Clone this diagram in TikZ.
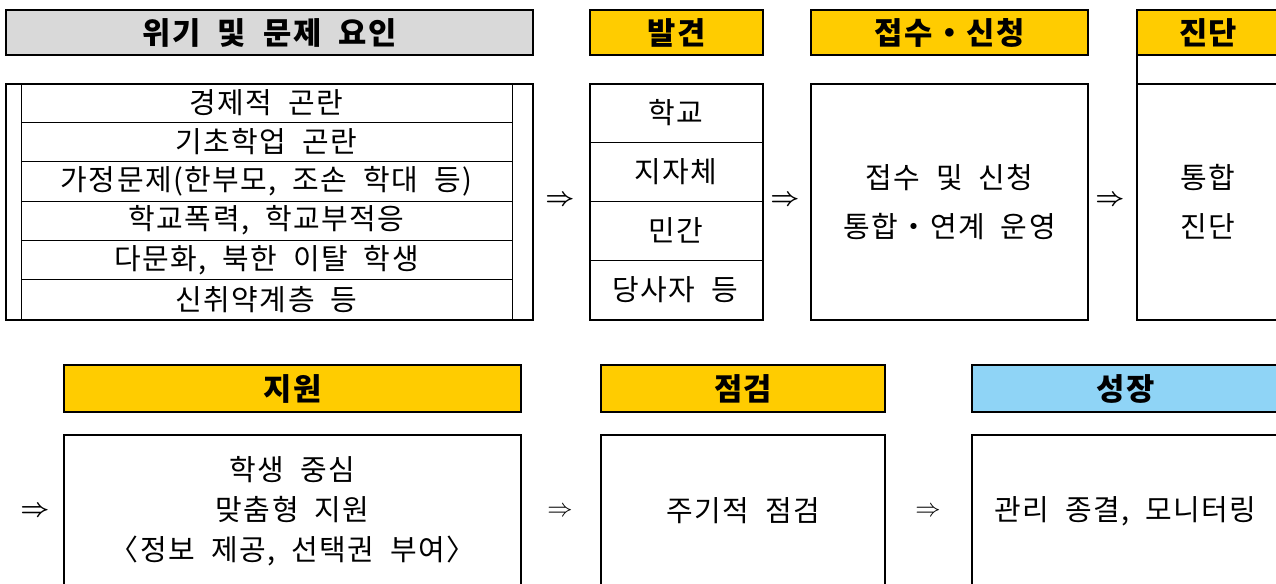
\documentclass[tikz,border=0pt]{standalone}
\usepackage{fontspec}
\setmainfont{Noto Sans CJK KR}[WordSpace=2, LetterSpace=5]
\usetikzlibrary{positioning}
\definecolor{hdryellow}{RGB}{255,204,0}
\definecolor{hdrgray}{RGB}{217,217,217}
\definecolor{hdrblue}{RGB}{143,212,246}

\begin{document}
\begin{tikzpicture}[x=0.02cm, y=-0.02cm,
  hdr/.style={draw, line width=1.3pt, inner sep=0pt, anchor=north west, minimum height=0.9cm, font=\bfseries\fontsize{17.5}{20}\selectfont},
  cell/.style={draw, line width=0.4pt, inner sep=0pt, outer sep=0pt, font=\fontsize{16.5}{20}\selectfont},
  crow/.style={cell, minimum width=9.82cm, minimum height=0.787cm},
  frow/.style={cell, minimum width=3.46cm, minimum height=1.18cm},
  frame/.style={draw, line width=1.3pt, inner sep=0pt, anchor=north west, align=center, font=\fontsize{16.5}{28}\selectfont},
  sign/.style={font=\boldmath\fontsize{15}{15}\selectfont},
  thinsign/.style={font=\fontsize{15}{15}\selectfont}]
\useasboundingbox (0,0) rectangle (1276,583);
\node (crisis) [hdr, fill=hdrgray, minimum width=10.54cm] at (5,9) {위기 및 문제 요인};
\node (c1) [crow, anchor=north west] at (21,83) {경제적 곤란};
\node (c2) [crow, below=0cm of c1] {기초학업 곤란};
\node (c3) [crow, below=0cm of c2] {가정문제(한부모, 조손 학대 등)};
\node (c4) [crow, below=0cm of c3] {학교폭력, 학교부적응};
\node (c5) [crow, below=0cm of c4] {다문화, 북한 이탈 학생};
\node (c6) [crow, below=0cm of c5] {신취약계층 등};
\node (crisisbox) [frame, minimum width=10.54cm, minimum height=4.72cm] at (5,83) {};
\node (s1) [sign] at (560,201) {$\Rightarrow$};
\node (find) [hdr, fill=hdryellow, minimum width=3.46cm] at (589,9) {발견};
\node (f1) [frow, anchor=north west] at (589,83) {학교};
\node (f2) [frow, below=0cm of f1] {지자체};
\node (f3) [frow, below=0cm of f2] {민간};
\node (f4) [frow, below=0cm of f3] {당사자 등};
\node (findbox) [frame, minimum width=3.46cm, minimum height=4.72cm] at (589,83) {};
\node (s2) [sign] at (785,201) {$\Rightarrow$};
\node (recv) [hdr, fill=hdryellow, minimum width=5.54cm] at (810,9) {접수・신청};
\node (recvbox) [frame, minimum width=5.54cm, minimum height=4.72cm] at (810,83) {접수 및 신청\\통합・연계 운영};
\node (s3) [sign] at (1110,201) {$\Rightarrow$};
\node (diag) [hdr, fill=hdryellow, minimum width=2.84cm] at (1136,9) {진단};
\node (diaggap) [frame, minimum width=2.84cm, minimum height=0.58cm] at (1136,54) {};
\node (diagbox) [frame, minimum width=2.84cm, minimum height=4.72cm] at (1136,83) {통합\\진단};
\node (s4) [sign] at (35,512) {$\Rightarrow$};
\node (help) [hdr, fill=hdryellow, minimum width=9.14cm, minimum height=0.94cm] at (63,364) {지원};
\node (helpbox) [frame, minimum width=9.14cm, minimum height=3.04cm, font=\fontsize{16.5}{23}\selectfont] at (63,434) {학생 중심\\맞춤형 지원\\〈정보 제공, 선택권 부여〉};
\node (s5) [thinsign] at (560,512) {$\Rightarrow$};
\node (check) [hdr, fill=hdryellow, minimum width=5.68cm, minimum height=0.94cm] at (600,364) {점검};
\node (checkbox) [frame, minimum width=5.68cm, minimum height=3.04cm] at (600,434) {주기적 점검};
\node (s6) [thinsign] at (928,512) {$\Rightarrow$};
\node (grow) [hdr, fill=hdrblue, minimum width=6.14cm, minimum height=0.94cm] at (971,364) {성장};
\node (growbox) [frame, minimum width=6.14cm, minimum height=3.04cm] at (971,434) {관리 종결, 모니터링};
\end{tikzpicture}
\end{document}
